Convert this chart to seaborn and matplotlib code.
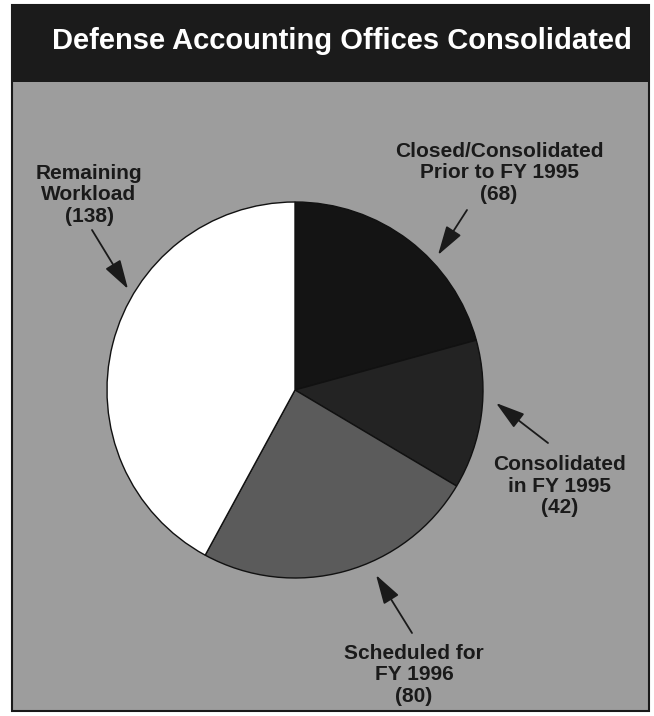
import matplotlib
matplotlib.use("Agg")
import matplotlib.pyplot as plt
import seaborn as sns
from matplotlib.patches import Rectangle

# data
categories = ["Closed/Consolidated\nPrior to FY 1995", "Consolidated\nin FY 1995",
              "Scheduled for\nFY 1996", "Remaining\nWorkload"]
offices = [68, 42, 80, 138]
slice_colors = ["#141414", "#232323", "#5b5b5b", "#ffffff"]

sns.set_theme(style="white")
plt.rcParams['font.family'] = ['Liberation Sans', 'DejaVu Sans']

fig = plt.figure(figsize=(6.54, 7.16), dpi=100)
fig.patch.set_facecolor("white")

# background layer in pixel coordinates
bg = fig.add_axes([0, 0, 1, 1])
bg.set_xlim(0, 654)
bg.set_ylim(716, 0)
bg.axis("off")
bg.add_patch(Rectangle((12, 5), 637, 706, facecolor="#9d9d9d", edgecolor="#1a1a1a", lw=1.5))
bg.add_patch(Rectangle((12, 5), 637, 77, facecolor="#1b1b1b", edgecolor="none"))
bg.text(342, 41, "Defense Accounting Offices Consolidated", color="white",
        fontsize=21, fontweight="bold", ha="center", va="center")

# pie axes
cx, cy, r = 295, 390, 188
ax = fig.add_axes([(cx - r) / 654, 1 - (cy + r) / 716, 2 * r / 654, 2 * r / 716])
ax.pie(offices, colors=slice_colors, startangle=90, counterclock=False,
       wedgeprops=dict(edgecolor="#111111", linewidth=1.0))
ax.set_xlim(-1, 1)
ax.set_ylim(-1, 1)
ax.axis("off")

# labels with arrows (pixel coords)
label_pos = [(499, 173), (560, 486), (414, 675), (89, 195)]
arrow_from = [(467, 210), (548, 443), (412, 633), (92, 230)]
arrow_to = [(438, 255), (496, 403), (376, 575), (128, 289)]
for lab, n, (tx, ty), (ax0, ay0), (ax1, ay1) in zip(categories, offices, label_pos, arrow_from, arrow_to):
    bg.text(tx, ty, f"{lab}\n({n})", ha="center", va="center", fontsize=15,
            fontweight="bold", color="#1a1a1a", linespacing=1.15)
    bg.annotate("", xy=(ax1, ay1), xytext=(ax0, ay0),
                arrowprops=dict(arrowstyle="-|>,head_length=1.5,head_width=0.45",
                                color="#1a1a1a", lw=1.3, shrinkA=0, shrinkB=0))

fig.savefig("out.png", dpi=100)
